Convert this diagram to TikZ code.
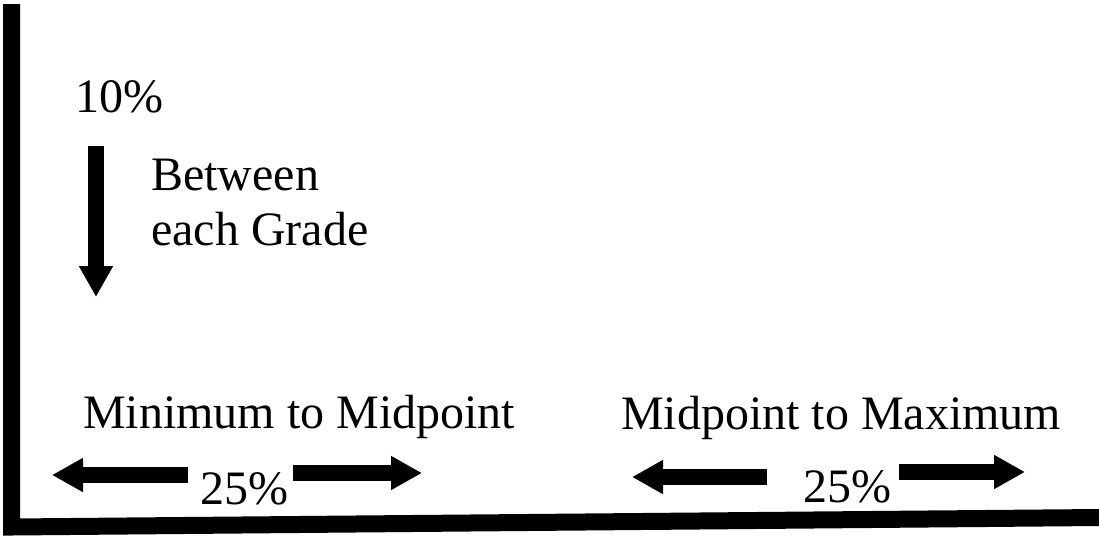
\documentclass[tikz,border=0pt]{standalone}
\usepackage{fontspec}
\setmainfont{Liberation Serif}
\usetikzlibrary{arrows.meta}
\begin{document}
\begin{tikzpicture}[x=1pt, y=-1pt,
	label/.style={inner sep=0pt, anchor=base west, font=\fontsize{48}{56}\selectfont},
	blockarrow/.style={line width=15.5pt, -{Triangle[length=31pt, width=32pt]}}]
	\useasboundingbox (0,0) rectangle (1099,536);
	
	% axes
	\coordinate (top) at (11.5,4);
	\coordinate (corner) at (11.5,527);
	\coordinate (far) at (1099,517.5);
	\draw[line width=17pt, line join=miter] (top) -- (corner) -- (far);
	
	% vertical step between grades
	\node[label] (step10) at (75,112) {10\%};
	\coordinate (down start) at (96,146);
	\coordinate (down end) at (96,297);
	\draw[blockarrow] (down start) -- (down end);
	\node[label] (between) at (151,190) {Between};
	\node[label] (grade) at (151,245) {each Grade};
	
	% minimum to midpoint
	\node[label] (minmid) at (83,428) {Minimum to Midpoint};
	\node[label] (minpct) at (200,504) {25\%};
	\coordinate (minL) at (52,475);
	\coordinate (minR) at (422,473);
	\draw[blockarrow] (minpct.west |- minL) ++(-12,0) -- (minL);
	\draw[blockarrow] (minpct.east |- minR) ++(5,0) -- (minR);
	
	% midpoint to maximum
	\node[label] (midmax) at (621,429) {Midpoint to Maximum};
	\node[label] (maxpct) at (803,502) {25\%};
	\coordinate (maxL) at (632,477);
	\coordinate (maxR) at (1025,472);
	\draw[blockarrow] (maxpct.west |- maxL) ++(-36,0) -- (maxL);
	\draw[blockarrow] (maxpct.east |- maxR) ++(8,0) -- (maxR);
\end{tikzpicture}
\end{document}
